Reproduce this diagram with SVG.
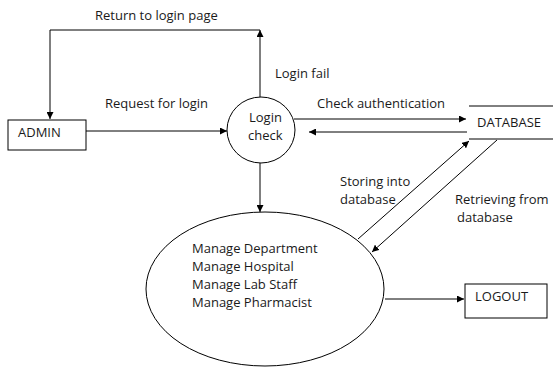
<svg xmlns="http://www.w3.org/2000/svg" width="553" height="367" viewBox="0 0 553 367">
<defs>
<marker id="ah" viewBox="0 0 10 10" refX="10" refY="5" markerWidth="7" markerHeight="7" orient="auto" markerUnits="userSpaceOnUse"><path d="M0,0 L10,5 L0,10 z" fill="#000"/></marker>
</defs>
<style>
text{font-family:"Open Sans","Liberation Sans",Arial,sans-serif;font-size:13px;fill:#1a1a1a}
.s{fill:#fff;stroke:#000;stroke-width:1}
.c{fill:none;stroke:#000;stroke-width:1}
</style>
<rect width="553" height="367" fill="#fff"/>
<g id="connectors">
<polyline class="c" points="260,97 260,30" marker-end="url(#ah)"/>
<polyline class="c" points="260,30 50,30 50,119" marker-end="url(#ah)"/>
<line class="c" x1="86" y1="131" x2="227" y2="131" marker-end="url(#ah)"/>
<line class="c" x1="294" y1="119" x2="466" y2="119" marker-end="url(#ah)"/>
<line class="c" x1="467" y1="132" x2="309" y2="132" marker-end="url(#ah)"/>
<line class="c" x1="260" y1="163" x2="260" y2="212" marker-end="url(#ah)"/>
<line class="c" x1="358" y1="239" x2="469" y2="141" marker-end="url(#ah)"/>
<line class="c" x1="497" y1="140" x2="372" y2="252" marker-end="url(#ah)"/>
<line class="c" x1="385" y1="299" x2="464" y2="299" marker-end="url(#ah)"/>
<text x="95" y="20">Return to login page</text>
<text x="105" y="108">Request for login</text>
<text x="275" y="78">Login fail</text>
<text x="317" y="108">Check authentication</text>
<text x="340" y="186">Storing into</text>
<text x="340" y="204">database</text>
<text x="455" y="204">Retrieving from</text>
<text x="457" y="222">database</text>
</g>
<g id="admin">
<rect class="s" x="8" y="120" width="78" height="30"/>
<text x="18" y="137">ADMIN</text>
</g>
<g id="login-check">
<ellipse class="s" cx="261" cy="130" rx="34" ry="33"/>
<text x="249" y="122">Login</text>
<text x="248" y="140">check</text>
</g>
<g id="database">
<line class="c" x1="469" y1="106" x2="553" y2="106"/>
<line class="c" x1="469" y1="139" x2="553" y2="139"/>
<text x="477" y="127">DATABASE</text>
</g>
<g id="manage">
<ellipse class="s" cx="265" cy="289" rx="119" ry="77"/>
<text x="192" y="253">Manage Department</text>
<text x="192" y="271">Manage Hospital</text>
<text x="192" y="289">Manage Lab Staff</text>
<text x="192" y="307">Manage Pharmacist</text>
</g>
<g id="logout">
<rect class="s" x="465" y="284" width="82" height="34"/>
<text x="475" y="301">LOGOUT</text>
</g>
</svg>
